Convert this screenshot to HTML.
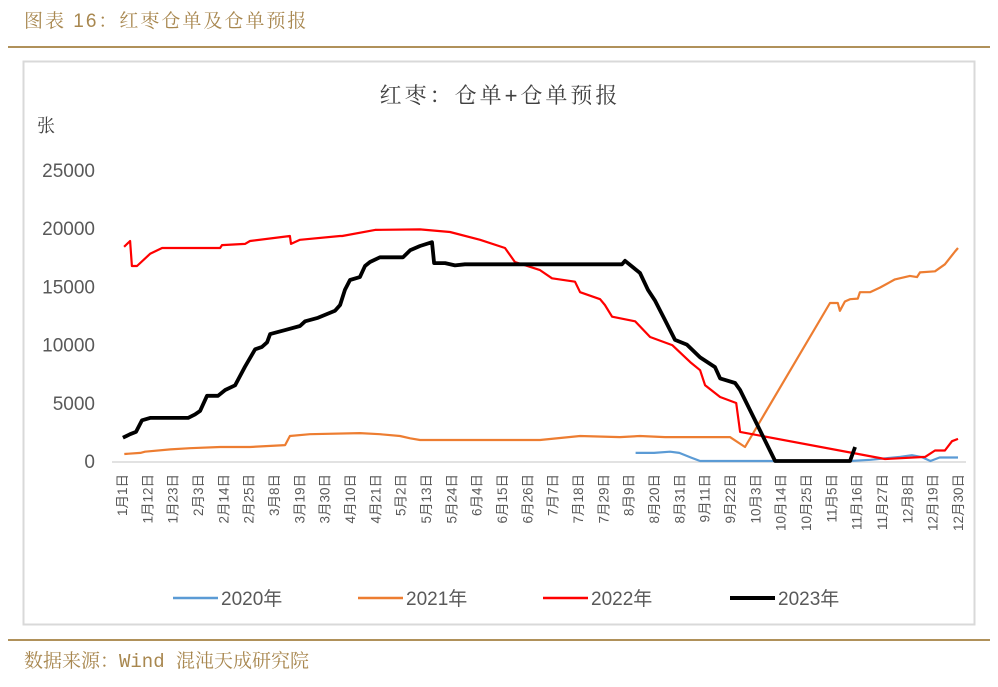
<!DOCTYPE html>
<html><head><meta charset="utf-8"><style>
body{margin:0;background:#fff;width:998px;height:682px;overflow:hidden;font-family:"Liberation Sans","Noto Sans CJK SC",sans-serif}
</style></head><body>
<svg id="c" width="998" height="682" xmlns="http://www.w3.org/2000/svg">
<text x="24" y="27" font-size="19" fill="#A8874F" font-family="'Liberation Sans','Noto Serif CJK SC',serif" letter-spacing="2">图表 16：红枣仓单及仓单预报</text>
<line x1="8" y1="47" x2="990" y2="47" stroke="#B0915A" stroke-width="2"/>
<rect x="23.5" y="61.5" width="951" height="563" fill="#fff" stroke="#D9D9D9" stroke-width="2"/>
<text x="500" y="103" font-size="22" fill="#404040" text-anchor="middle" letter-spacing="3" font-family="'Liberation Sans','Noto Serif CJK SC',serif">红枣：仓单+仓单预报</text>
<text x="37" y="132" font-size="18" fill="#404040" font-family="'Liberation Sans','Noto Serif CJK SC',serif">张</text>
<g id="plot"></g>
<line x1="8" y1="640" x2="990" y2="640" stroke="#B0915A" stroke-width="2"/>
<text x="24" y="667" font-size="19" fill="#A8874F" font-family="'Liberation Mono','Noto Serif CJK SC',serif">数据来源：Wind  混沌天成研究院</text>
</svg>
<script>
const yTicks=[0,5000,10000,15000,20000,25000];
const xLabels=["1月1日","1月12日","1月23日","2月3日","2月14日","2月25日","3月8日","3月19日","3月30日","4月10日","4月21日","5月2日","5月13日","5月24日","6月4日","6月15日","6月26日","7月7日","7月18日","7月29日","8月9日","8月20日","8月31日","9月11日","9月22日","10月3日","10月14日","10月25日","11月5日","11月16日","11月27日","12月8日","12月19日","12月30日"];
const seriesNames=["2020年","2021年","2022年","2023年"];
const d2020=[224,232,239,243,248,252,317,326,339,344,348,352,356,364];
const v2020=[700,700,800,700,300,0,0,100,350,500,350,0,300,300];
const d2021=[2,9,11,22,30.5,43.6,56.6,71.8,73.9,82.6,104.3,113,121.7,126.1,130.4,182.5,199.9,217.2,225.9,236.8,243.3,265,271.5,308.4,311.8,312.7,314.9,317.1,320.5,321.4,325.8,330.1,336.6,343.1,346.2,347.5,354,358.3,362.7,364];
const v2021=[600,700,800,1000,1100,1200,1200,1370,2150,2300,2400,2300,2150,1950,1800,1800,2150,2050,2150,2050,2050,2050,1200,13570,13570,12900,13700,13900,13950,14500,14500,14900,15600,15900,15800,16200,16300,16900,18000,18300];
const d2022=[1.9,4.5,5.3,7.5,13.2,18.4,43.6,44.4,54.4,56.6,73.9,74.4,78.3,95.7,96.6,110.9,130.4,143.4,156.5,167.3,171.6,182.5,187.7,197.7,199.9,208.6,210.7,213.8,223.8,230.3,239.9,247.7,252,254.2,260.7,267.7,269.4,332.3,349.7,354,358.3,361.4,364];
const v2022=[18400,18900,16750,16750,17800,18300,18300,18550,18650,18900,19330,18650,19000,19330,19330,19850,19900,19670,19000,18300,17100,16400,15700,15400,14500,13900,13400,12400,12000,10650,9960,8500,7800,6500,5500,4980,2500,170,350,900,900,1700,1900];
const d2023=[1.4,4.5,7.1,9.7,13.2,29.7,32.7,34.9,37.9,42.7,45.8,50.1,54.4,58.8,61.8,64,65.3,71.8,78.3,80.5,86.1,93.5,95.7,97.8,100,104.3,106.5,108.7,113,123,126.1,130.4,135.6,136.5,141.3,145.6,149.9,182.5,218.1,219.4,225.9,229.4,232.4,236.8,241.1,246.3,252,258.5,260.7,267.2,269.4,284.6,317.1,319.3];
const v2023=[2000,2300,2500,3500,3700,3700,4000,4300,5600,5600,6100,6500,8100,9600,9800,10200,10900,11250,11600,12000,12300,12900,13400,14700,15550,15800,16750,17100,17500,17500,18100,18470,18800,17000,17000,16800,16900,16900,16900,17200,16150,14700,13800,12100,10400,10000,8900,8070,7100,6700,6100,0,0,1200];
const colors=["#5B9BD5","#ED7D31","#FF0000","#000000"];
const widths=[2.2,2.2,2.2,3.8];

const X0=122,X1=958,NDAYS=364,Y0=461,YPER=0.011640;
const xs=d=>X0+(d-1)*(X1-X0)/(NDAYS-1);
const ys=v=>Y0-v*YPER;
const NS="http://www.w3.org/2000/svg";
const g=document.getElementById('plot');
function mk(t,a){const e=document.createElementNS(NS,t);for(const k in a)e.setAttribute(k,a[k]);return e;}
yTicks.forEach(t=>{
  const e=mk('text',{x:95,y:ys(t)+7,'font-size':19,fill:'#595959','text-anchor':'end'});
  
  
  e.textContent=t;g.appendChild(e);
});
const ax=mk('line',{x1:112,x2:966,y1:Y0+1,y2:Y0+1,stroke:'#D9D9D9','stroke-width':1.5});


g.appendChild(ax);
xLabels.forEach((l,i)=>{
  const x=xs(1+i*11);
  const e=mk('text',{x:0,y:0,'font-size':13.5,fill:'#595959','text-anchor':'end',transform:`translate(${x+5},474) rotate(-90)`,'font-family':"'Liberation Sans','Noto Sans CJK SC',sans-serif"});
  
  
  e.textContent=l;g.appendChild(e);
});
const data=[[d2020,v2020],[d2021,v2021],[d2022,v2022],[d2023,v2023]];
data.forEach(([d,v],s)=>{
  const p=d.map((dd,i)=>(i?'L':'M')+xs(dd).toFixed(1)+','+ys(v[i]).toFixed(1)).join('');
  const e=mk('path',{d:p,fill:'none',stroke:colors[s],'stroke-width':widths[s],'stroke-linejoin':'round'});
  
  
  g.appendChild(e);
});
const lx=[173,358,543,730];
seriesNames.forEach((n,s)=>{
  const l=mk('line',{x1:lx[s],x2:lx[s]+45,y1:598,y2:598,stroke:colors[s],'stroke-width':s==3?4:2.5});
  
  
  g.appendChild(l);
  const t=mk('text',{x:lx[s]+48,y:605,'font-size':19,fill:'#595959'});
  
  
  t.textContent=n;g.appendChild(t);
});
</script>
</body></html>
